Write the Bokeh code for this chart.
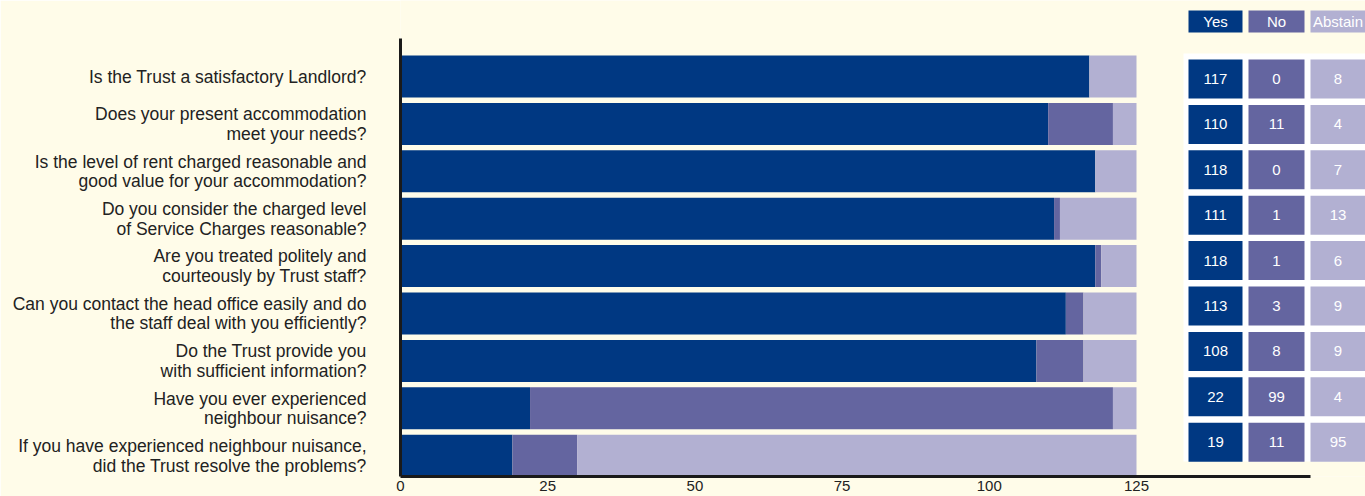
from bokeh.plotting import figure
from bokeh.models import Range1d, FixedTicker, ColumnDataSource
from bokeh.core.properties import value
from bokeh.embed import file_html
from bokeh.resources import INLINE

# ---- data ----
questions = [
    "Is the Trust a satisfactory Landlord?",
    "Does your present accommodation\nmeet your needs?",
    "Is the level of rent charged reasonable and\ngood value for your accommodation?",
    "Do you consider the charged level\nof Service Charges reasonable?",
    "Are you treated politely and\ncourteously by Trust staff?",
    "Can you contact the head office easily and do\nthe staff deal with you efficiently?",
    "Do the Trust provide you\nwith sufficient information?",
    "Have you ever experienced\nneighbour nuisance?",
    "If you have experienced neighbour nuisance,\ndid the Trust resolve the problems?",
]
yes = [117, 110, 118, 111, 118, 113, 108, 22, 19]
no = [0, 11, 0, 1, 1, 3, 8, 99, 11]
abstain = [8, 4, 7, 13, 6, 9, 9, 4, 95]
series = ["Yes", "No", "Abstain"]
x_ticks = [0, 25, 50, 75, 100, 125]

# ---- style / layout ----
colors = ["#003882", "#6465a0", "#b2b0d2"]
bg = "#fffce9"
W, H = 1365, 496
LEFT, BOTTOM = 400, 20
PX_PER_X = 5.888        # pixels per unit on x
PX_PER_ROW = 47.4       # pixels per row
ROW0_PX = 76            # pixel centre of first row
FONT = "Liberation Sans"

def px2x(px):
    return (px - LEFT) / PX_PER_X

def py2y(py):
    return (py - ROW0_PX) / PX_PER_ROW

rows = list(range(len(questions)))
src = ColumnDataSource(dict(y=rows, Yes=yes, No=no, Abstain=abstain))

x_end = px2x(W)
y_top = py2y(0)
y_bottom = py2y(H - BOTTOM)

p = figure(width=W, height=H, output_backend="svg", toolbar_location=None,
           x_range=Range1d(0, x_end), y_range=Range1d(y_bottom, y_top),
           min_border_left=LEFT, min_border_right=0, min_border_top=0,
           min_border_bottom=BOTTOM)
p.background_fill_color = bg
p.border_fill_color = bg
p.outline_line_color = None
p.grid.visible = False

p.hbar_stack(series, y="y", height=0.886, color=colors,
             line_color=None, source=src)

# x axis
xa = p.xaxis[0]
xa.ticker = FixedTicker(ticks=x_ticks)
xa.bounds = (0, px2x(1310))
xa.axis_line_width = 3
xa.axis_line_color = "#1a1a1a"
xa.major_tick_line_color = None
xa.minor_tick_line_color = None
xa.major_tick_out = 0
xa.major_label_standoff = 4
xa.major_label_text_font = FONT
xa.major_label_text_font_size = "15px"
xa.major_label_text_color = "#222222"

# y axis with question labels
ya = p.yaxis[0]
ya.ticker = FixedTicker(ticks=rows)
ya.major_label_overrides = {i: q for i, q in zip(rows, questions)}
ya.bounds = (py2y(38), y_bottom)
ya.axis_line_width = 3
ya.axis_line_color = "#1a1a1a"
ya.major_tick_line_color = None
ya.minor_tick_line_color = None
ya.major_tick_out = 0
ya.major_label_standoff = 34
ya.major_label_text_font = FONT
ya.major_label_text_font_size = "17.5px"
ya.major_label_text_color = "#222222"
ya.major_label_text_line_height = 0.98

# right-hand value table
col_px = [1215, 1276, 1337.5]
col_w = [54, 56, 55]
cell_py = [78.5 + 45.4 * i for i in rows]

p.quad(left=[px2x(1183)], right=[px2x(1370)], top=[py2y(53)], bottom=[py2y(461)],
       fill_color="white", line_color=None)

for j, (name, vals) in enumerate(zip(series, [yes, no, abstain])):
    cx = px2x(col_px[j])
    # header
    p.rect(x=[cx], y=[py2y(21)], width=col_w[j], height=22,
           width_units="screen", height_units="screen",
           fill_color=colors[j], line_color=None)
    p.text(x=[cx], y=[py2y(21)], text=[name], text_align="center",
           text_baseline="middle", text_color="white",
           text_font=value(FONT), text_font_size="15px")
    ys = [py2y(c) for c in cell_py]
    p.rect(x=[cx] * len(rows), y=ys, width=col_w[j], height=39,
           width_units="screen", height_units="screen",
           fill_color=colors[j], line_color=None)
    p.text(x=[cx] * len(rows), y=ys, text=[str(v) for v in vals],
           text_align="center", text_baseline="middle", text_color="white",
           text_font=value(FONT), text_font_size="15px")

open("out.html", "w").write(file_html(p, INLINE))
